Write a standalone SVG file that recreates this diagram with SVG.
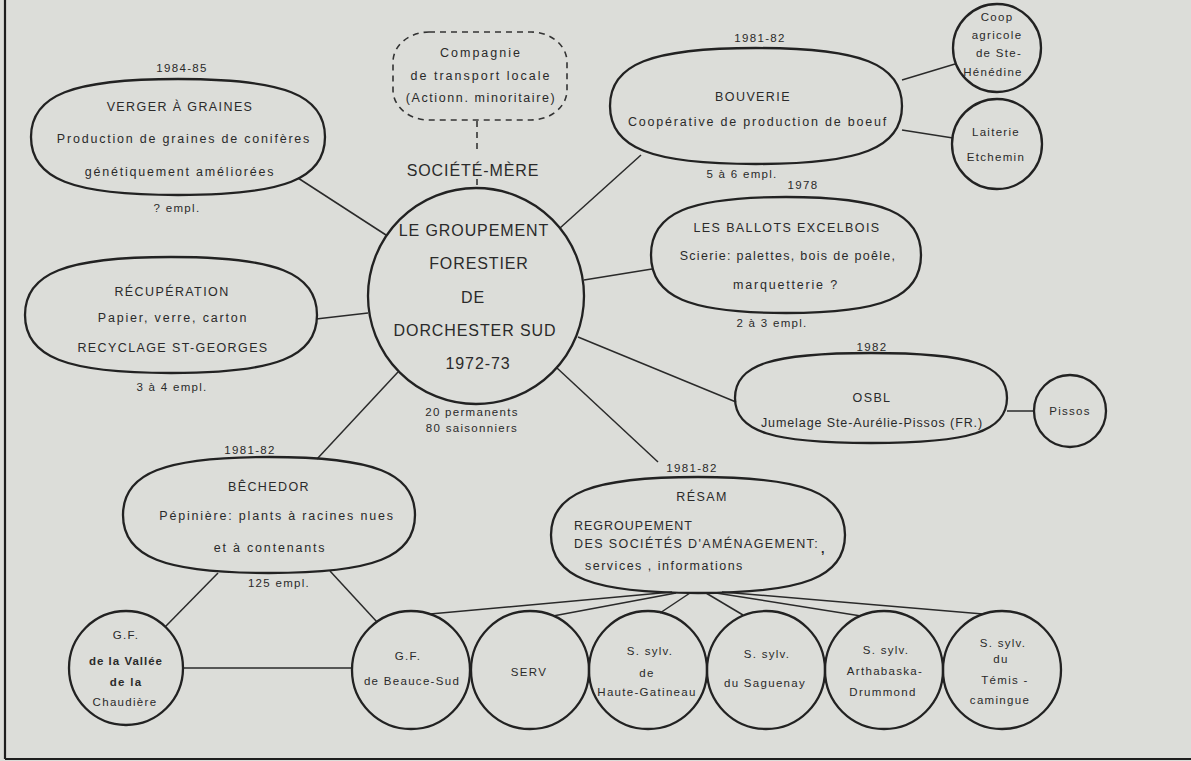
<svg xmlns="http://www.w3.org/2000/svg" width="1191" height="761" viewBox="0 0 1191 761">
<style>
text{font-family:"Liberation Sans",Arial,sans-serif;fill:#2a2a2a;text-anchor:middle;dominant-baseline:central}
.c{font-size:16px;letter-spacing:0.9px}
.u{font-size:12.5px;letter-spacing:1.4px}
.t{font-size:12.5px;letter-spacing:1.8px}
.y{font-size:11.5px;letter-spacing:1.3px}
.s{font-size:11.5px;letter-spacing:1.3px}
.l{text-anchor:start}
.b{font-weight:bold}
.shape{fill:none;stroke:#222;stroke-width:2.3}
.dash{fill:none;stroke:#333;stroke-width:1.6;stroke-dasharray:6 5}
.conn line{stroke:#2a2a2a;stroke-width:1.5}
</style>
<rect width="1191" height="761" fill="#dcddd9"/>
<g id="frame" stroke="#1e1e1e" stroke-width="2.2">
<line x1="5" y1="0" x2="5" y2="759"/>
<line x1="5" y1="759" x2="1191" y2="759"/>
</g>
<g id="connectors" class="conn">
<line x1="298" y1="178" x2="386" y2="235"/>
<line x1="641" y1="155" x2="560" y2="228"/>
<line x1="316" y1="319" x2="368" y2="313"/>
<line x1="584" y1="280" x2="652" y2="269"/>
<line x1="578" y1="337" x2="736" y2="402"/>
<line x1="398" y1="372" x2="317" y2="459"/>
<line x1="557" y1="368" x2="658" y2="462"/>
<line x1="902" y1="80" x2="955" y2="64"/>
<line x1="902" y1="130" x2="953" y2="138"/>
<line x1="1007" y1="411" x2="1034" y2="411"/>
<line x1="218" y1="573" x2="165" y2="627"/>
<line x1="330" y1="571" x2="377" y2="622"/>
<line x1="183" y1="668" x2="352" y2="668"/>
<line x1="672" y1="592" x2="430" y2="614"/>
<line x1="676" y1="593" x2="553" y2="616"/>
<line x1="690" y1="593" x2="660" y2="613"/>
<line x1="706" y1="593" x2="743" y2="615"/>
<line x1="716" y1="593" x2="861" y2="616"/>
<line x1="722" y1="592" x2="983" y2="614"/>
<line class="dash" x1="477" y1="121" x2="477" y2="153"/>
<line class="dash" x1="477" y1="179" x2="477" y2="188"/>
</g>
<g id="compagnie">
<rect class="dash" x="393" y="32" width="174" height="88" rx="36" ry="30"/>
<text class="t" x="481" y="53" style="letter-spacing:2px">Compagnie</text>
<text class="t" x="481" y="76" style="letter-spacing:2px">de transport locale</text>
<text class="t" x="481" y="98" style="letter-spacing:1.6px">(Actionn. minoritaire)</text>
</g>
<g id="central">
<text class="c" x="473" y="170">SOCIÉTÉ-MÈRE</text>
<circle class="shape" cx="476" cy="296" r="108"/>
<text class="c" x="474" y="230">LE GROUPEMENT</text>
<text class="c" x="479" y="263">FORESTIER</text>
<text class="c" x="473" y="297">DE</text>
<text class="c" x="475" y="330">DORCHESTER SUD</text>
<text class="c" x="478" y="363">1972-73</text>
<text class="y" x="472" y="412">20 permanents</text>
<text class="y" x="472" y="428">80 saisonniers</text>
</g>
<g id="verger">
<path class="shape" d="M31,137 C31,95 72,79 178,79 C284,79 325,95 325,137 C325,179 284,195 178,195 C72,195 31,179 31,137Z"/>
<text class="y" x="182" y="68">1984-85</text>
<text class="u" x="180" y="107">VERGER À GRAINES</text>
<text class="t" x="184" y="139">Production de graines de conifères</text>
<text class="t" x="180" y="172">génétiquement améliorées</text>
<text class="y" x="177" y="208">? empl.</text>
</g>
<g id="bouverie">
<path class="shape" d="M610,106 C610,64 651,48 756,48 C861,48 902,64 902,106 C902,148 861,164 756,164 C651,164 610,148 610,106Z"/>
<text class="y" x="760" y="38">1981-82</text>
<text class="u" x="753" y="97">BOUVERIE</text>
<text class="t" x="758" y="122">Coopérative de production de boeuf</text>
<text class="y" x="742" y="174">5 à 6 empl.</text>
<text class="y" x="803" y="185">1978</text>
</g>
<g id="coop">
<circle class="shape" cx="997" cy="48" r="44"/>
<text class="s" x="997" y="17">Coop</text>
<text class="s" x="997" y="35">agricole</text>
<text class="s" x="999" y="53">de Ste-</text>
<text class="s" x="993" y="72">Hénédine</text>
</g>
<g id="laiterie">
<circle class="shape" cx="997" cy="144" r="45"/>
<text class="s" x="996" y="132">Laiterie</text>
<text class="s" x="996" y="157">Etchemin</text>
</g>
<g id="ballots">
<path class="shape" d="M651,255 C651,213 689,197 786,197 C883,197 921,213 921,255 C921,297 883,313 786,313 C689,313 651,297 651,255Z"/>
<text class="u" x="787" y="228">LES BALLOTS EXCELBOIS</text>
<text class="t" x="788" y="256" style="letter-spacing:1.3px">Scierie: palettes, bois de poêle,</text>
<text class="t" x="786" y="285">marquetterie ?</text>
<text class="y" x="772" y="323">2 à 3 empl.</text>
</g>
<g id="recuperation">
<path class="shape" d="M25,315 C25,273 66,257 171,257 C276,257 317,273 317,315 C317,357 276,373 171,373 C66,373 25,357 25,315Z"/>
<text class="u" x="172" y="292">RÉCUPÉRATION</text>
<text class="t" x="173" y="318">Papier, verre, carton</text>
<text class="u" x="173" y="348">RECYCLAGE ST-GEORGES</text>
<text class="y" x="172" y="387">3 à 4 empl.</text>
</g>
<g id="osbl">
<path class="shape" d="M735,398 C735,364 773,353 871,353 C969,353 1007,364 1007,398 C1007,432 969,443 871,443 C773,443 735,432 735,398Z"/>
<text class="y" x="872" y="347">1982</text>
<text class="u" x="872" y="398">OSBL</text>
<text class="t" x="872" y="423" style="letter-spacing:0.9px">Jumelage Ste-Aurélie-Pissos (FR.)</text>
</g>
<g id="pissos">
<circle class="shape" cx="1070" cy="411" r="36"/>
<text class="s" x="1070" y="411">Pissos</text>
</g>
<g id="bechedor">
<path class="shape" d="M123,515 C123,473 164,457 269,457 C374,457 415,473 415,515 C415,557 374,573 269,573 C164,573 123,557 123,515Z"/>
<text class="y" x="250" y="450">1981-82</text>
<text class="u" x="269" y="487">BÊCHEDOR</text>
<text class="t" x="277" y="516">Pépinière: plants à racines nues</text>
<text class="t" x="270" y="548">et à contenants</text>
<text class="y" x="279" y="583">125 empl.</text>
</g>
<g id="resam">
<path class="shape" d="M551,535 C551,493 592,477 698,477 C804,477 845,493 845,535 C845,577 804,593 698,593 C592,593 551,577 551,535Z"/>
<text class="y" x="692" y="468">1981-82</text>
<text class="u" x="702" y="497">RÉSAM</text>
<text class="u l" x="574" y="526" style="letter-spacing:1px">REGROUPEMENT</text>
<text class="u l" x="574" y="544">DES SOCIÉTÉS D'AMÉNAGEMENT:<tspan class="b" dx="2" dy="5">,</tspan></text>
<text class="t l" x="585" y="566" style="letter-spacing:1.5px">services , informations</text>
</g>
<g id="gf-vallee">
<circle class="shape" cx="126" cy="668" r="57"/>
<text class="s" x="126" y="635">G.F.</text>
<text class="s b" x="126" y="661" style="letter-spacing:1px">de la Vallée</text>
<text class="s b" x="126" y="682">de la</text>
<text class="s" x="125" y="702">Chaudière</text>
</g>
<g id="gf-beauce">
<circle class="shape" cx="411" cy="670" r="59"/>
<text class="s" x="408" y="656">G.F.</text>
<text class="s" x="412" y="681">de Beauce-Sud</text>
</g>
<g id="serv">
<circle class="shape" cx="530" cy="670" r="59"/>
<text class="s" x="529" y="672">SERV</text>
</g>
<g id="haute-gatineau">
<circle class="shape" cx="648" cy="670" r="59"/>
<text class="s" x="650" y="651">S. sylv.</text>
<text class="s" x="647" y="673">de</text>
<text class="s" x="647" y="692">Haute-Gatineau</text>
</g>
<g id="saguenay">
<circle class="shape" cx="766" cy="670" r="59"/>
<text class="s" x="767" y="654">S. sylv.</text>
<text class="s" x="765" y="683">du Saguenay</text>
</g>
<g id="arthabaska">
<circle class="shape" cx="884" cy="670" r="59"/>
<text class="s" x="886" y="650">S. sylv.</text>
<text class="s" x="885" y="671">Arthabaska-</text>
<text class="s" x="883" y="692">Drummond</text>
</g>
<g id="temiscamingue">
<circle class="shape" cx="1002" cy="670" r="59"/>
<text class="s" x="1003" y="643">S. sylv.</text>
<text class="s" x="1001" y="659">du</text>
<text class="s" x="1005" y="680">Témis -</text>
<text class="s" x="1000" y="700">camingue</text>
</g>
</svg>
